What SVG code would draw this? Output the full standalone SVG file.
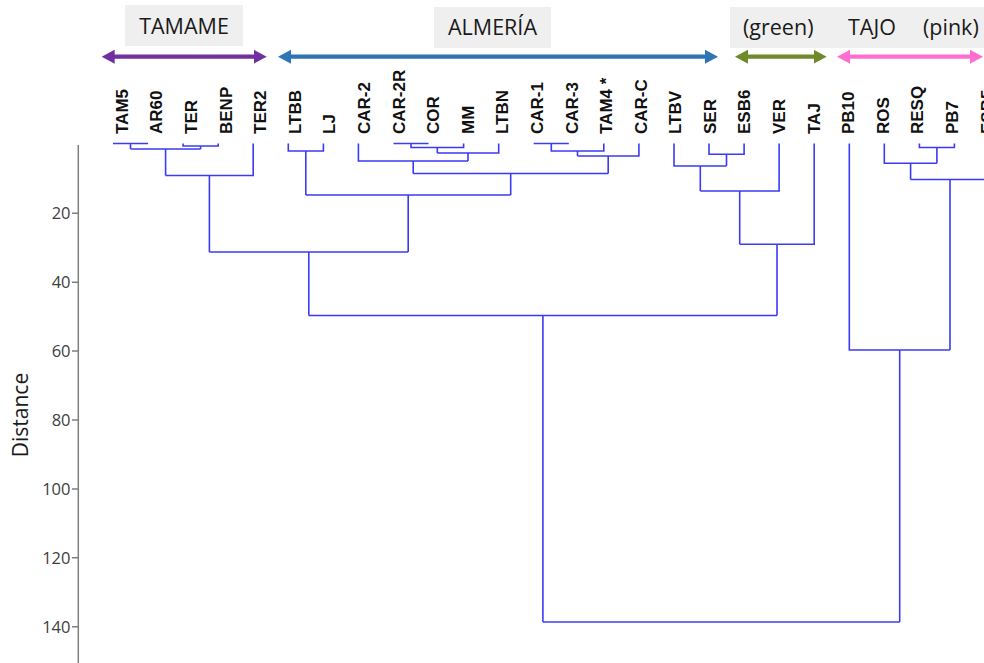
<svg xmlns="http://www.w3.org/2000/svg" width="984" height="663" viewBox="0 0 984 663">
<style>
.leaf{font-family:"Liberation Sans",Arial,sans-serif;font-weight:bold;font-size:17px;fill:#111}
.hdr{font-family:"Open Sans","Liberation Sans",sans-serif;font-size:21.5px;fill:#1a1a1a}
.box{fill:#efefef}
.tick{font-family:"Open Sans","Liberation Sans",sans-serif;font-size:16.5px;fill:#404040;text-anchor:end}
.axis{stroke:#7f7f7f;stroke-width:1.5;fill:none}
.den{stroke:#3b3bf5;stroke-width:1.6;fill:none;stroke-linejoin:miter}
.arr{stroke-width:4.2;fill:none}
</style>
<defs>
<marker id="hP" markerUnits="userSpaceOnUse" markerWidth="14" markerHeight="14" refX="2" refY="7" orient="auto-start-reverse"><path d="M0,0 L13,7 L0,14 z" fill="#7030a0"/></marker>
<marker id="hB" markerUnits="userSpaceOnUse" markerWidth="14" markerHeight="14" refX="2" refY="7" orient="auto-start-reverse"><path d="M0,0 L13,7 L0,14 z" fill="#2e75b6"/></marker>
<marker id="hG" markerUnits="userSpaceOnUse" markerWidth="14" markerHeight="14" refX="2" refY="7" orient="auto-start-reverse"><path d="M0,0 L13,7 L0,14 z" fill="#6f8a2b"/></marker>
<marker id="hK" markerUnits="userSpaceOnUse" markerWidth="14" markerHeight="14" refX="2" refY="7" orient="auto-start-reverse"><path d="M0,0 L13,7 L0,14 z" fill="#ff6fcf"/></marker>
</defs>
<rect width="984" height="663" fill="#ffffff"/>

<g id="headers">
<g id="hdr-tamame"><rect class="box" x="125" y="5" width="118" height="41"/><text class="hdr" x="184" y="33.5" text-anchor="middle">TAMAME</text></g>
<g id="hdr-almeria"><rect class="box" x="434" y="7" width="117" height="41"/><text class="hdr" x="492.5" y="35" text-anchor="middle">ALMERÍA</text></g>
<g id="hdr-green-tajo"><rect class="box" x="730" y="7" width="260" height="41"/><text class="hdr" x="743" y="35">(green)</text><text class="hdr" x="848" y="35">TAJO</text><text class="hdr" x="923" y="35">(pink)</text></g>
</g>

<g id="arrows">
<line class="arr" stroke="#7030a0" x1="112.7" y1="56.7" x2="255.7" y2="56.7" marker-start="url(#hP)" marker-end="url(#hP)"/>
<line class="arr" stroke="#2e75b6" x1="289" y1="56.7" x2="707" y2="56.7" marker-start="url(#hB)" marker-end="url(#hB)"/>
<line class="arr" stroke="#6f8a2b" x1="746" y1="56.7" x2="815.7" y2="56.7" marker-start="url(#hG)" marker-end="url(#hG)"/>
<line class="arr" stroke="#ff6fcf" x1="848" y1="56.7" x2="972" y2="56.7" marker-start="url(#hK)" marker-end="url(#hK)"/>
</g>

<g id="leaves">
<g id="TAM5"><text class="leaf" transform="translate(127.8,134) rotate(-90)">TAM5</text></g>
<g id="AR60"><text class="leaf" transform="translate(162.4,134) rotate(-90)">AR60</text></g>
<g id="TER"><text class="leaf" transform="translate(197,134) rotate(-90)">TER</text></g>
<g id="BENP"><text class="leaf" transform="translate(231.6,134) rotate(-90)">BENP</text></g>
<g id="TER2"><text class="leaf" transform="translate(266.2,134) rotate(-90)">TER2</text></g>
<g id="LTBB"><text class="leaf" transform="translate(300.8,134) rotate(-90)">LTBB</text></g>
<g id="LJ"><text class="leaf" transform="translate(335.3,134) rotate(-90)">LJ</text></g>
<g id="CAR-2"><text class="leaf" transform="translate(369.9,134) rotate(-90)">CAR-2</text></g>
<g id="CAR-2R"><text class="leaf" transform="translate(404.5,134) rotate(-90)">CAR-2R</text></g>
<g id="COR"><text class="leaf" transform="translate(439.1,134) rotate(-90)">COR</text></g>
<g id="MM"><text class="leaf" transform="translate(473.7,134) rotate(-90)">MM</text></g>
<g id="LTBN"><text class="leaf" transform="translate(508.3,134) rotate(-90)">LTBN</text></g>
<g id="CAR-1"><text class="leaf" transform="translate(542.9,134) rotate(-90)">CAR-1</text></g>
<g id="CAR-3"><text class="leaf" transform="translate(577.5,134) rotate(-90)">CAR-3</text></g>
<g id="TAM4"><text class="leaf" transform="translate(612.1,134) rotate(-90)">TAM4 *</text></g>
<g id="CAR-C"><text class="leaf" transform="translate(646.7,134) rotate(-90)">CAR-C</text></g>
<g id="LTBV"><text class="leaf" transform="translate(681.2,134) rotate(-90)">LTBV</text></g>
<g id="SER"><text class="leaf" transform="translate(715.8,134) rotate(-90)">SER</text></g>
<g id="ESB6"><text class="leaf" transform="translate(750.4,134) rotate(-90)">ESB6</text></g>
<g id="VER"><text class="leaf" transform="translate(785,134) rotate(-90)">VER</text></g>
<g id="TAJ"><text class="leaf" transform="translate(819.6,134) rotate(-90)">TAJ</text></g>
<g id="PB10"><text class="leaf" transform="translate(854.2,134) rotate(-90)">PB10</text></g>
<g id="ROS"><text class="leaf" transform="translate(888.8,134) rotate(-90)">ROS</text></g>
<g id="RESQ"><text class="leaf" transform="translate(923.4,134) rotate(-90)">RESQ</text></g>
<g id="PB7"><text class="leaf" transform="translate(958,134) rotate(-90)">PB7</text></g>
<g id="ESB5"><text class="leaf" transform="translate(992.6,134) rotate(-90)">ESB5</text></g>
</g>

<g id="axis">
<line class="axis" x1="78.3" y1="145" x2="78.3" y2="663"/>
<path class="axis" d="M72,213.3H78.3M72,282.2H78.3M72,351.1H78.3M72,420H78.3M72,488.9H78.3M72,557.8H78.3M72,626.7H78.3"/>
<text class="tick" x="70.5" y="219.3">20</text>
<text class="tick" x="70.5" y="288.2">40</text>
<text class="tick" x="70.5" y="357.1">60</text>
<text class="tick" x="70.5" y="426">80</text>
<text class="tick" x="70.5" y="494.9">100</text>
<text class="tick" x="70.5" y="563.8">120</text>
<text class="tick" x="70.5" y="632.7">140</text>
<text font-family="'Open Sans','Liberation Sans',sans-serif" font-size="21px" fill="#1a1a1a" text-anchor="middle" transform="translate(28.3,415) rotate(-90)">Distance</text>
</g>

<g id="connectors" class="den">
<!-- TAMAME -->
<path d="M113,143.5H148.1M130.5,143.5V149"/>
<path d="M183.1,143.5V146H218.2V143.5M200.6,146V149"/>
<path d="M130.5,149H200.6M165.6,149V175.5"/>
<path d="M253.2,143.5V175.5H165.6M209.4,175.5V252"/>
<!-- ALMERIA -->
<path d="M288.3,143.5V151H323.4V143.5M305.8,151V195"/>
<path d="M393.5,143.5H428.5M411,143.5V147.5H463.6V143.5M437.3,147.5V153"/>
<path d="M498.7,143.5V153H437.3M468,153V161"/>
<path d="M358.4,143.5V161H468M413.2,161V173.5"/>
<path d="M533.7,143.5H568.8M551.3,143.5V151H603.8V143.5M577.5,151V156"/>
<path d="M638.9,143.5V156H577.5M608.2,156V173.5"/>
<path d="M413.2,173.5H608.2M510.7,173.5V195"/>
<path d="M305.8,195H510.7M408.2,195V252"/>
<path d="M209.4,252H408.2M308.8,252V315.5"/>
<!-- green -->
<path d="M709,143.5V154.3H744.1V143.5M726.5,154.3V166"/>
<path d="M674,143.5V166H726.5M700.3,166V191"/>
<path d="M779.1,143.5V191H700.3M739.7,191V244.3"/>
<path d="M814.2,143.5V244.3H739.7M777,244.3V315.5"/>
<path d="M308.8,315.5H777M542.9,315.5V622"/>
<!-- pink -->
<path d="M919.4,143.5V147.5H954.4V143.5M936.9,147.5V163.3"/>
<path d="M884.3,143.5V163.3H936.9M910.6,163.3V179.5"/>
<path d="M989.5,143.5V179.5H910.6M950,179.5V350"/>
<path d="M849.3,143.5V350H950M899.7,350V622"/>
<path d="M542.9,622H899.7"/>
</g>
</svg>
